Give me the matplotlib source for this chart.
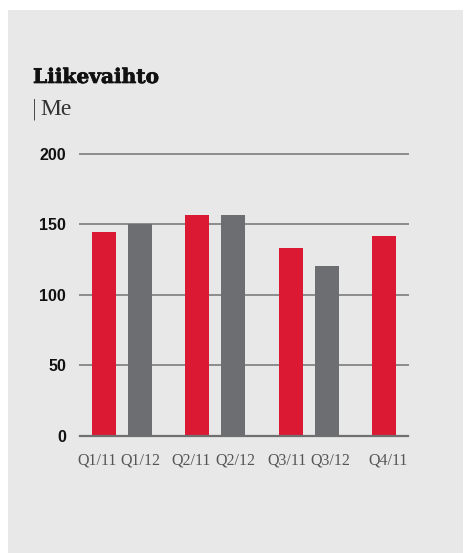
import matplotlib.pyplot as plt
from matplotlib.patches import Rectangle
from matplotlib.transforms import ScaledTranslation
import matplotlib.patheffects as pe
import numpy as np

# Liikevaihto, Me
quarters = ["Q1", "Q2", "Q3", "Q4"]
values_2011 = [144.6, 156.7, 133.6, 141.8]
values_2012 = [150.1, 156.7, 120.8]
yticks = [0, 50, 100, 150, 200]

RED = "#dc1932"
GRAY = "#6d6e71"
BG = "#e8e8e8"

W, H = 465, 553
fig = plt.figure(figsize=(W / 100, H / 100), dpi=100)
fig.patch.set_facecolor("white")

# gray panel
fig.patches.append(Rectangle((8 / W, 0), (463 - 8) / W, (H - 10) / H,
                             transform=fig.transFigure, facecolor=BG,
                             edgecolor="none", zorder=-5))

ax = fig.add_axes([80 / W, (H - 435.7) / H, 328 / W, 281.7 / H])
ax.set_facecolor("none")
ax.set_zorder(2)

off = 0.1925
bw = 0.257
x = np.arange(len(quarters))

ax.bar(x - off, values_2011, width=bw, color=RED, zorder=3)
ax.bar(x[:len(values_2012)] + off, values_2012, width=bw, color=GRAY, zorder=3)

ax.set_xlim(-0.449, 3.059)
ax.set_ylim(0, 200)

for v in yticks[1:]:
    ax.axhline(v, color="#8c8c8c", lw=1.4, zorder=1, clip_on=False)
ax.axhline(0, color="#6f6f6f", lw=1.6, zorder=4, clip_on=False)

for s in ax.spines.values():
    s.set_visible(False)

ax.set_yticks(yticks)
ax.set_yticklabels([str(v) for v in yticks], fontfamily="Liberation Sans",
                   fontweight="bold", fontsize=11.5, color="#111111")
ax.tick_params(axis="y", length=0, pad=10)

pos, labs = [], []
for i, q in enumerate(quarters):
    pos.append(i - off)
    labs.append(f"{q}/11")
    if i < len(values_2012):
        pos.append(i + off)
        labs.append(f"{q}/12")
ax.set_xticks(pos)
ax.set_xticklabels(labs, fontfamily="Liberation Serif", fontsize=11.5,
                   color="#555555")
ax.tick_params(axis="x", length=0, pad=12)

# nudge labels sideways so neighbours don't collide (pixels)
nudge = [-7, 0, -6, 2, -4, 3, 4]
for lab, dx in zip(ax.get_xticklabels(), nudge):
    lab.set_transform(lab.get_transform() +
                      ScaledTranslation(dx / 100, 0, fig.dpi_scale_trans))

fig.text(33 / W, 1 - 83 / H, "Liikevaihto", fontfamily="DejaVu Serif",
         fontweight="bold", fontsize=14.5, color="#111111", va="baseline",
         path_effects=[pe.withStroke(linewidth=0.5, foreground="#111111")])
fig.text(31 / W, 1 - 115 / H, "|", fontfamily="DejaVu Sans", fontweight="light",
         fontsize=15, color="#444444", va="baseline")
fig.text(40 / W, 1 - 115 / H, "Me", fontfamily="Liberation Serif",
         fontsize=17, color="#333333", va="baseline")

fig.savefig("out.png", dpi=100, facecolor=fig.get_facecolor())
